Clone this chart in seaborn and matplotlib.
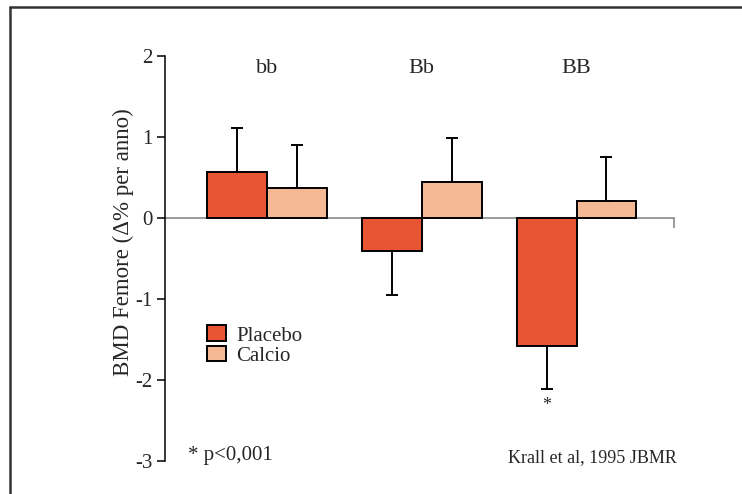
import matplotlib
matplotlib.use("Agg")
from matplotlib import pyplot as plt; import seaborn as sns
from matplotlib.lines import Line2D
import pandas as pd
import numpy as np

## values
genotypes = ["bb", "Bb", "BB"]
groups = ["Placebo", "Calcio"]
placebo = [0.57, -0.41, -1.58]
calcio = [0.37, 0.44, 0.21]
placebo_err = [0.54, 0.54, 0.53]
calcio_err = [0.53, 0.55, 0.54]
colors = ["#E85535", "#F5B895"]

df = pd.DataFrame({
    "genotype": genotypes * 2,
    "gruppo": [groups[0]] * 3 + [groups[1]] * 3,
    "bmd": placebo + calcio,
})

sns.set_style("white")
plt.rcParams['font.family'] = ['Liberation Serif', 'DejaVu Serif']
plt.rcParams['axes.unicode_minus'] = False

fig = plt.figure(figsize=(7.42, 4.94), dpi=100)
ax = fig.add_axes([0.2224, 0.0668, 0.686, 0.8198])

sns.barplot(data=df, x="genotype", y="bmd", hue="gruppo", palette=colors,
            saturation=1, width=0.774, edgecolor="black", linewidth=1.4,
            errorbar=None, ax=ax)

## one-sided error bars, pointing away from zero
for cont, errs in zip(ax.containers, [placebo_err, calcio_err]):
    for bar, e in zip(cont, errs):
        x = bar.get_x() + bar.get_width() / 2
        h = bar.get_height()
        yerr = [[e], [0]] if h < 0 else [[0], [e]]
        ax.errorbar(x, h, yerr=yerr, fmt="none", ecolor="black",
                    elinewidth=1.4, capsize=4.5, capthick=1.4, zorder=1)
        if cont is ax.containers[0] and h < -1:
            ax.text(x, h - e - 0.1, "*", ha="center", va="top", fontsize=13)

for i, g in enumerate(genotypes):
    ax.text(i, 1.85, g, ha="center", va="center", fontsize=16)

ax.set_xlim(-0.66, 2.63)
ax.set_ylim(-3, 2)
ax.set_yticks([2, 1, 0, -1, -2, -3])
ax.set_xticks([2.628])
ax.set_xticklabels([""])
ax.set_xlabel("")
ax.set_ylabel("BMD Femore (Δ% per anno)", fontsize=16.5)
ax.yaxis.set_label_coords(-0.06, 0.54)

for s in ["top", "right"]:
    ax.spines[s].set_visible(False)
ax.spines["left"].set_color("black")
ax.spines["left"].set_linewidth(1.1)
ax.spines["bottom"].set_position(("data", 0))
ax.spines["bottom"].set_color("#808080")
ax.spines["bottom"].set_linewidth(1.1)
ax.spines["bottom"].set_zorder(0)
ax.tick_params(axis="y", direction="out", length=6, width=1.1, color="black",
               labelsize=15, pad=3, left=True)
ax.tick_params(axis="x", direction="out", length=7, width=1.1, color="#808080",
               bottom=True)

handles, labels = ax.get_legend_handles_labels()
ax.legend(handles, labels, loc="upper left", bbox_to_anchor=(0.082, 0.335),
          frameon=False, fontsize=15, handlelength=0.9, handleheight=0.8,
          handletextpad=0.5, labelspacing=0.0, borderpad=0, borderaxespad=0)

ax.text(0.045, -2.93, "* p<0,001", transform=ax.get_yaxis_transform(),
        ha="left", va="center", fontsize=15)
ax.text(0.674, -2.96, "Krall et al, 1995 JBMR", transform=ax.get_yaxis_transform(),
        ha="left", va="center", fontsize=13)

## outer frame: top and left edges only
fig.add_artist(Line2D([0.0135, 1.0], [0.9858, 0.9858], color="#333333", lw=1.8))
fig.add_artist(Line2D([0.0135, 0.0135], [0.0, 0.9858], color="#333333", lw=1.8))

fig.savefig("out.png", dpi=100)
